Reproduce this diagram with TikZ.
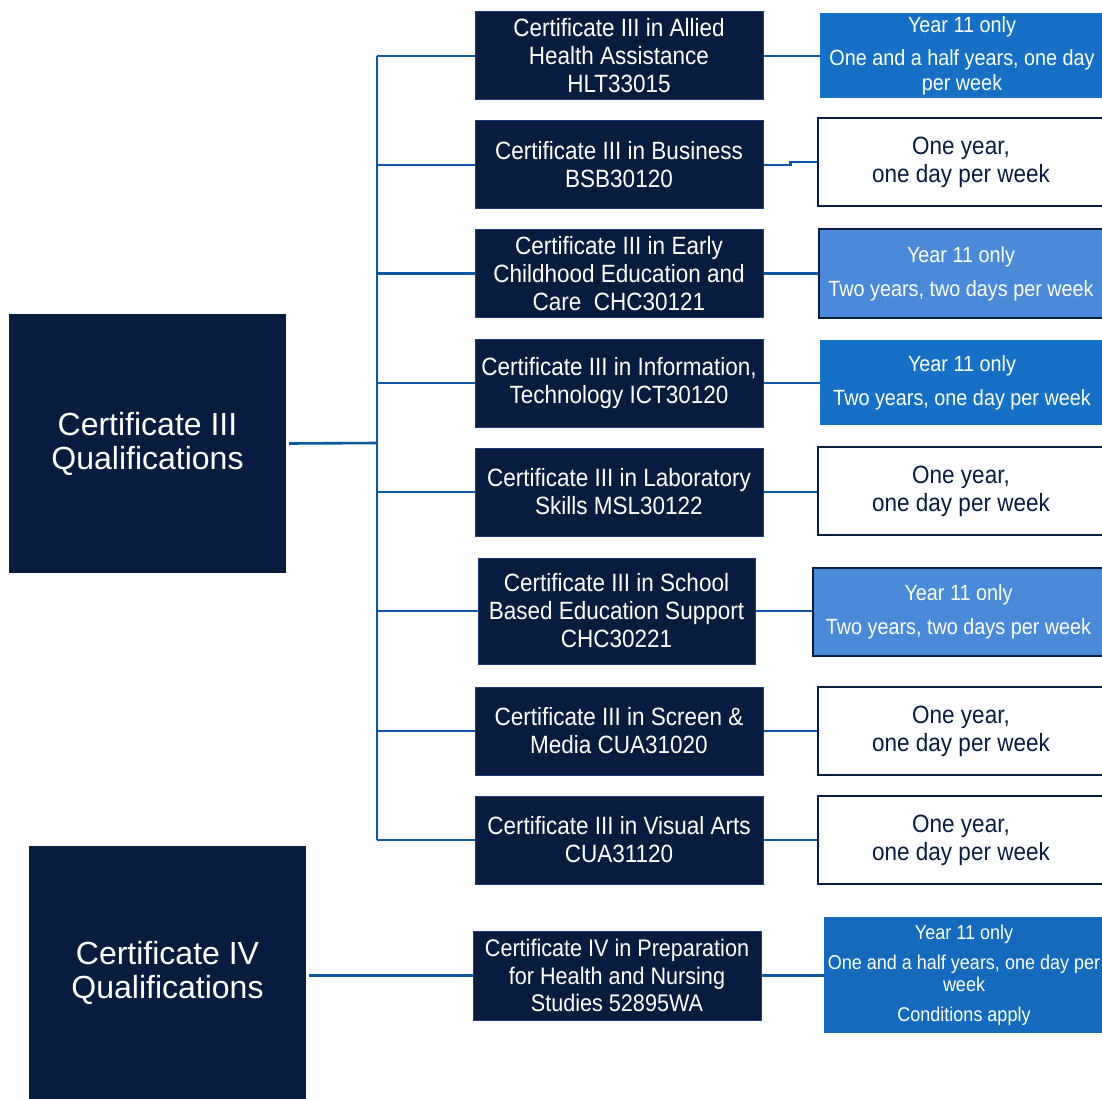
\documentclass[tikz,border=0pt]{standalone}
\usepackage{fontspec}
\setmainfont[FakeStretch=0.9]{Liberation Sans}
\newfontfamily\widefont{Liberation Sans}
\usetikzlibrary{positioning}
\definecolor{navy}{HTML}{081C3F}
\definecolor{qedge}{HTML}{1E3C78}
\definecolor{midblue}{HTML}{1570C6}
\definecolor{lightblue}{HTML}{4A8AD8}
\definecolor{linkblue}{HTML}{0D58A2}

\begin{document}
\begin{tikzpicture}[x=1pt, y=-1pt,
  group/.style={fill=navy, text=white, minimum width=277pt, inner sep=0pt,
    align=center, font=\widefont\fontsize{32}{34}\selectfont},
  qual/.style={fill=navy, draw=qedge, line width=1pt, text=white, inner sep=0pt,
    minimum width=288pt, minimum height=88pt, align=center,
    font=\fontsize{25}{28}\selectfont},
  plain/.style={fill=white, draw=navy, line width=2pt, text=navy, inner sep=0pt,
    minimum width=286pt, minimum height=88pt, align=center,
    font=\fontsize{25}{28}\selectfont},
  year/.style={fill=midblue, text=white, inner sep=0pt, minimum width=284pt,
    minimum height=85pt, align=center, font=\fontsize{22}{25}\selectfont},
  yearb/.style={year, fill=lightblue, draw=navy, line width=2pt, minimum height=88pt},
  link/.style={draw=linkblue, line width=2.6pt}]

\useasboundingbox (0,0) rectangle (1102,1099);

% groups
\node[group, minimum height=259pt] (c3) at (147.5,443.5) {Certificate III\\Qualifications};
\node[group, minimum height=254pt] (c4) at (167.5,973) {Certificate IV\\Qualifications};

% certificate III courses
\node[qual] (q1) at (619,56) {Certificate III in Allied\\Health Assistance\\HLT33015};
\node[qual] (q2) at (619,165) {Certificate III in Business\\BSB30120};
\node[qual] (q3) at (619,273.5) {Certificate III in Early\\Childhood Education and\\Care\ \ CHC30121};
\node[qual] (q4) at (619,383) {Certificate III in Information,\\Technology ICT30120};
\node[qual] (q5) at (619,492) {Certificate III in Laboratory\\Skills MSL30122};
\node[qual, minimum width=277pt, minimum height=106pt] (q6) at (616.5,611) {Certificate III in School\\Based Education Support\\CHC30221};
\node[qual] (q7) at (619,731) {Certificate III in Screen \&\\Media CUA31020};
\node[qual] (q8) at (619,840) {Certificate III in Visual Arts\\CUA31120};

% certificate IV course
\node[qual, minimum height=89pt, font=\fontsize{24}{27.5}\selectfont] (q9) at (617,975.5)
  {Certificate IV in Preparation\\for Health and Nursing\\Studies 52895WA};

% durations
\node[year] (d1) at (962,56) {Year 11 only\\[8pt]One and a half years, one day\\per week};
\node[plain] (d2) at (961,162) {One year,\\one day per week};
\node[yearb] (d3) at (961,273.5) {Year 11 only\\[9pt]Two years, two days per week};
\node[year] (d4) at (962,382.5) {Year 11 only\\[9pt]Two years, one day per week};
\node[plain] (d5) at (961,491) {One year,\\one day per week};
\node[yearb, minimum width=291pt] (d6) at (958.5,612) {Year 11 only\\[9pt]Two years, two days per week};
\node[plain] (d7) at (961,731) {One year,\\one day per week};
\node[plain] (d8) at (961,840) {One year,\\one day per week};
\node[year, minimum width=280pt, minimum height=116pt, fill=midblue!95!black,
  font=\fontsize{20}{22}\selectfont] (d9) at (964,975)
  {Year 11 only\\[8pt]One and a half years, one day per\\week\\[8pt]Conditions apply};

% connectors
\coordinate (sp) at (377,443);
\draw[link] ([xshift=3pt]c3.east) -- (sp);
\draw[link] (q1.west -| sp) -- (q8.west -| sp);
\foreach \i in {1,...,8}
  \draw[link] (q\i.west -| sp) -- (q\i.west);
\foreach \i in {1,3,4,5,6,7,8,9}
  \draw[link] (q\i.east) -- (q\i.east -| d\i.west);
\draw[link] (q2.east) -- ++(27,0) |- (d2.west);
\draw[link] ([xshift=3pt]c4.east |- q9.west) -- (q9.west);

\end{tikzpicture}
\end{document}
